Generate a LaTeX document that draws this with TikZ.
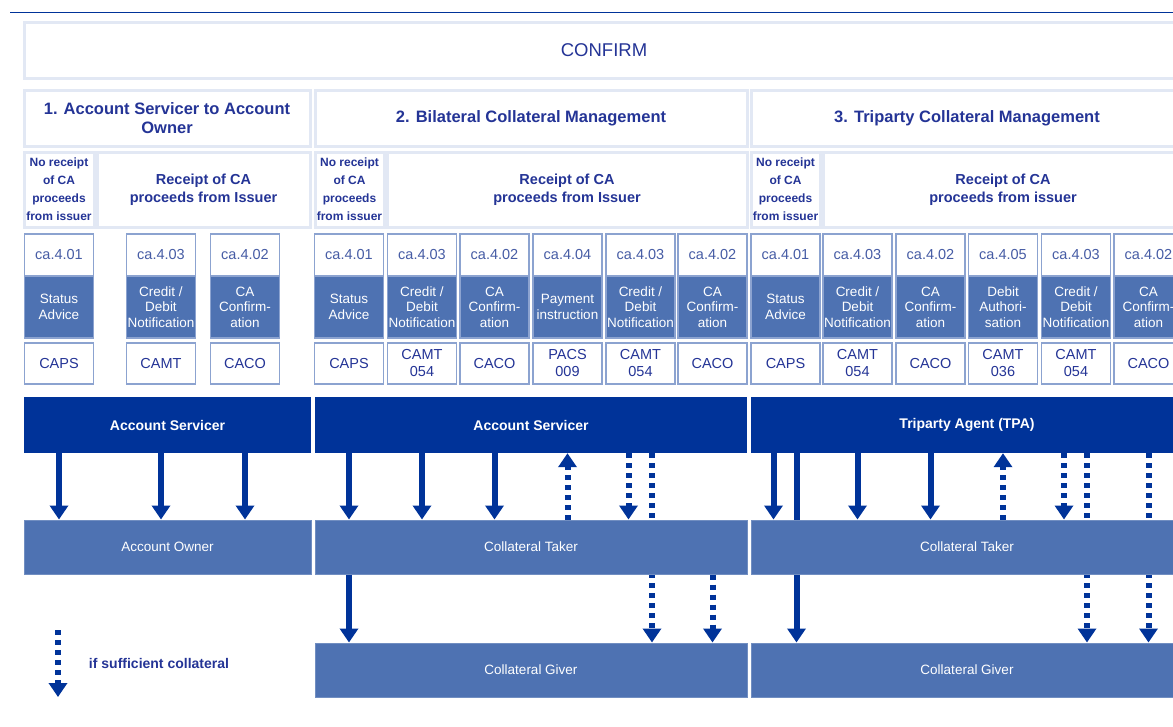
\documentclass[tikz,border=0pt]{standalone}
\usepackage{fontspec}
\setmainfont{Liberation Sans}
\usetikzlibrary{arrows.meta}

\definecolor{darkblue}{RGB}{0,51,153}
\definecolor{midblue}{RGB}{78,114,178}
\definecolor{hdrline}{RGB}{226,232,244}
\definecolor{msgline}{RGB}{140,163,208}
\definecolor{hdrtext}{RGB}{36,52,150}
\definecolor{codetext}{RGB}{70,92,165}

\pgfdeclarelayer{bg}
\pgfsetlayers{bg,main}

\tikzset{
    banner/.style={draw=hdrline, line width=3pt, fill=white, text=hdrtext, inner sep=0pt},
    sechdr/.style={banner, align=center, font=\bfseries\fontsize{16.5}{19}\selectfont},
    subhdr/.style={banner, align=center, font=\bfseries\fontsize{14.5}{18}\selectfont},
    narrow/.style={banner, align=center, font=\bfseries\fontsize{12}{18}\selectfont},
    code/.style={draw=msgline, line width=1.5pt, fill=white, text=codetext, minimum width=69pt, minimum height=42pt, inner sep=0pt, font=\fontsize{14.5}{16}\selectfont},
    msg/.style={draw=msgline, line width=1.5pt, fill=midblue, text=white, minimum width=69pt, minimum height=62pt, inner sep=0pt, align=center, font=\fontsize{13.5}{15.5}\selectfont},
    fmt/.style={code, text=hdrtext, align=center, minimum height=41pt, font=\fontsize{14.5}{17}\selectfont},
    party/.style={fill=darkblue, text=white, minimum height=56pt, inner sep=0pt, font=\bfseries\fontsize{14}{16}\selectfont},
    role/.style={fill=midblue, draw=midblue!80!white, line width=1pt, text=white, minimum height=54pt, inner sep=0pt, font=\fontsize{13.5}{16}\selectfont},
    flow/.style={draw=darkblue, line width=6pt, -{Triangle[width=18pt,length=14pt]}},
    maybe/.style={flow, dash pattern=on 5pt off 5pt},
}

\begin{document}
\begin{tikzpicture}[x=1pt, y=-1pt]
\useasboundingbox (0,0) rectangle (1173,726);
\clip (0,0) rectangle (1173,726);

\coordinate (rulel) at (10,12.5);
\coordinate (ruler) at (1173,12.5);
\draw[darkblue, line width=1.5pt] (rulel) -- (ruler);

\node (confirm) at (604, 50) [banner, minimum width=1160pt, minimum height=56pt, font=\fontsize{18.5}{20}\selectfont] {CONFIRM};

% section headers
\node (sec1) at (167, 118) [sechdr, minimum width=286pt, minimum height=56pt] {1. Account Servicer to Account\\Owner};
\node (sec2) at (531, 118) [sechdr, minimum width=432pt, minimum height=56pt] {2. Bilateral Collateral Management};
\node (sec3) at (967, 118) [sechdr, minimum width=432pt, minimum height=56pt] {3. Triparty Collateral Management};

\node (no1) at (59, 189.5) [narrow, minimum width=70pt, minimum height=75pt] {No receipt\\of CA\\proceeds\\from issuer};
\node (rc1) at (203.5, 189.5) [subhdr, minimum width=213pt, minimum height=75pt] {Receipt of CA\\proceeds from Issuer};
\node (no2) at (349.5, 189.5) [narrow, minimum width=69pt, minimum height=75pt] {No receipt\\of CA\\proceeds\\from issuer};
\node (rc2) at (567, 189.5) [subhdr, minimum width=360pt, minimum height=75pt] {Receipt of CA\\proceeds from Issuer};
\node (no3) at (785.5, 189.5) [narrow, minimum width=69pt, minimum height=75pt] {No receipt\\of CA\\proceeds\\from issuer};
\node (rc3) at (1003, 189.5) [subhdr, minimum width=360pt, minimum height=75pt] {Receipt of CA\\proceeds from issuer};

% messages, section 1
\node (c11) at (59, 255) [code] {ca.4.01};
\node (n11) at (59, 307) [msg] {Status\\Advice};
\node (f11) at (59, 363.5) [fmt] {CAPS};
\node (c12) at (161, 255) [code] {ca.4.03};
\node (n12) at (161, 307) [msg] {Credit /\\Debit\\Notification};
\node (f12) at (161, 363.5) [fmt] {CAMT};
\node (c13) at (245, 255) [code] {ca.4.02};
\node (n13) at (245, 307) [msg] {CA\\Confirm-\\ation};
\node (f13) at (245, 363.5) [fmt] {CACO};

% messages, section 2
\node (c21) at (349, 255) [code] {ca.4.01};
\node (n21) at (349, 307) [msg] {Status\\Advice};
\node (f21) at (349, 363.5) [fmt] {CAPS};
\node (c22) at (422, 255) [code] {ca.4.03};
\node (n22) at (422, 307) [msg] {Credit /\\Debit\\Notification};
\node (f22) at (422, 363.5) [fmt] {CAMT\\054};
\node (c23) at (494.5, 255) [code] {ca.4.02};
\node (n23) at (494.5, 307) [msg] {CA\\Confirm-\\ation};
\node (f23) at (494.5, 363.5) [fmt] {CACO};
\node (c24) at (567.5, 255) [code] {ca.4.04};
\node (n24) at (567.5, 307) [msg] {Payment\\instruction};
\node (f24) at (567.5, 363.5) [fmt] {PACS\\009};
\node (c25) at (640.5, 255) [code] {ca.4.03};
\node (n25) at (640.5, 307) [msg] {Credit /\\Debit\\Notification};
\node (f25) at (640.5, 363.5) [fmt] {CAMT\\054};
\node (c26) at (712.5, 255) [code] {ca.4.02};
\node (n26) at (712.5, 307) [msg] {CA\\Confirm-\\ation};
\node (f26) at (712.5, 363.5) [fmt] {CACO};

% messages, section 3
\node (c31) at (785.5, 255) [code] {ca.4.01};
\node (n31) at (785.5, 307) [msg] {Status\\Advice};
\node (f31) at (785.5, 363.5) [fmt] {CAPS};
\node (c32) at (857.5, 255) [code] {ca.4.03};
\node (n32) at (857.5, 307) [msg] {Credit /\\Debit\\Notification};
\node (f32) at (857.5, 363.5) [fmt] {CAMT\\054};
\node (c33) at (930.5, 255) [code] {ca.4.02};
\node (n33) at (930.5, 307) [msg] {CA\\Confirm-\\ation};
\node (f33) at (930.5, 363.5) [fmt] {CACO};
\node (c34) at (1003, 255) [code] {ca.4.05};
\node (n34) at (1003, 307) [msg] {Debit\\Authori-\\sation};
\node (f34) at (1003, 363.5) [fmt] {CAMT\\036};
\node (c35) at (1076, 255) [code] {ca.4.03};
\node (n35) at (1076, 307) [msg] {Credit /\\Debit\\Notification};
\node (f35) at (1076, 363.5) [fmt] {CAMT\\054};
\node (c36) at (1148.5, 255) [code] {ca.4.02};
\node (n36) at (1148.5, 307) [msg] {CA\\Confirm-\\ation};
\node (f36) at (1148.5, 363.5) [fmt] {CACO};

% parties
\node (as1) at (167.5, 425) [party, minimum width=287pt] {Account Servicer};
\node (as2) at (531, 425) [party, minimum width=432pt] {Account Servicer};
\node (tpa) at (967, 425) [party, minimum width=432pt] {Triparty Agent (TPA)};
\node (ao1) at (167.5, 547) [role, minimum width=287pt] {Account Owner};
\node (ct2) at (531, 547) [role, minimum width=432pt] {Collateral Taker};
\node (ct3) at (967, 547) [role, minimum width=432pt] {Collateral Taker};
\node (cg2) at (531, 670) [role, minimum width=432pt] {Collateral Giver};
\node (cg3) at (967, 670) [role, minimum width=432pt] {Collateral Giver};

\draw[flow] (as1.south -| c11) -- (ao1.north -| c11);
\draw[flow] (as1.south -| c12) -- (ao1.north -| c12);
\draw[flow] (as1.south -| c13) -- (ao1.north -| c13);

\draw[flow] (as2.south -| c21) -- (ct2.north -| c21);
\draw[flow] (as2.south -| c22) -- (ct2.north -| c22);
\draw[flow] (as2.south -| c23) -- (ct2.north -| c23);
\draw[maybe] (ct2.north -| c24) -- (as2.south -| c24);
\draw[maybe] ([xshift=-12pt]as2.south -| c25) -- ([xshift=-12pt]ct2.north -| c25);
\draw[flow] (ct2.south -| c21) -- (cg2.north -| c21);
\draw[maybe] (ct2.south -| c26) -- (cg2.north -| c26);

\draw[flow] ([xshift=-12pt]tpa.south -| c31) -- ([xshift=-12pt]ct3.north -| c31);
\draw[flow] (tpa.south -| c32) -- (ct3.north -| c32);
\draw[flow] (tpa.south -| c33) -- (ct3.north -| c33);
\draw[maybe] (ct3.north -| c34) -- (tpa.south -| c34);
\draw[maybe] ([xshift=-12pt]tpa.south -| c35) -- ([xshift=-12pt]ct3.north -| c35);

% lines passing behind the taker boxes
\begin{pgfonlayer}{bg}
\draw[maybe] ([xshift=11.5pt]as2.south -| c25) -- ([xshift=11.5pt]cg2.north -| c25);
\draw[flow] ([xshift=11pt]tpa.south -| c31) -- ([xshift=11pt]cg3.north -| c31);
\draw[maybe] ([xshift=11pt]tpa.south -| c35) -- ([xshift=11pt]cg3.north -| c35);
\draw[maybe] (tpa.south -| c36) -- (cg3.north -| c36);
\end{pgfonlayer}

% legend
\coordinate (keytop) at (58, 630);
\coordinate (keyend) at (58, 697);
\draw[maybe] (keytop) -- (keyend);
\node (keytxt) at (159, 663) [text=hdrtext, font=\bfseries\fontsize{14}{16}\selectfont] {if sufficient collateral};
\end{tikzpicture}
\end{document}
